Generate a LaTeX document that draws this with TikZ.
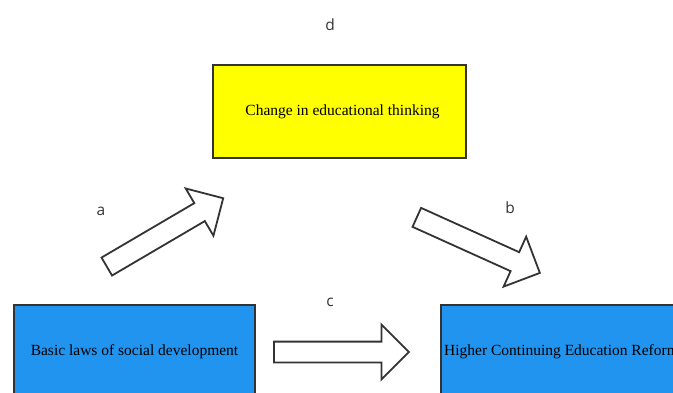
\documentclass[tikz,border=0pt]{standalone}
\usepackage{fontspec}
\setmainfont{Liberation Serif}
\newfontfamily\lblfont{Open Sans}
\usetikzlibrary{shapes.arrows}
\definecolor{boxblue}{RGB}{33,148,240}
\definecolor{boxyellow}{RGB}{255,255,0}
\definecolor{edgegray}{RGB}{51,51,51}
\tikzset{
  box/.style={draw=edgegray, line width=2pt, minimum width=253pt, minimum height=93pt,
    font=\fontsize{15.5}{18}\selectfont, inner sep=0pt},
  blockarrow/.style={draw=edgegray, line width=1.8pt, fill=white, single arrow,
    single arrow head extend=17pt, inner xsep=0pt, inner ysep=9.5pt,
    minimum height=135pt, anchor=tail},
  lbl/.style={font=\lblfont\fontsize{15.5}{18}\selectfont, text=edgegray, inner sep=0pt}
}
\begin{document}
\begin{tikzpicture}[x=1pt, y=-1pt]
  \path[use as bounding box, clip] (0,0) rectangle (673,392);
  \node[box, fill=boxyellow] (think) at (339.5,111.5) {\hspace{6pt}Change in educational thinking};
  \node[box, fill=boxblue, minimum width=241pt] (laws) at (134.5,351.5) {Basic laws of social development};
  \node[box, fill=boxblue, minimum width=241pt] (reform) at (561.5,351.5) {Higher Continuing Education Reform};
  % block arrows
  \node[blockarrow, rotate=30.4] (arrA) at (106,267) {};
  \node[blockarrow, rotate=-24.3] (arrB) at (416,217) {};
  \node[blockarrow] (arrC) at (273,352) {};
  % labels
  \node[lbl] (d) at (330,25) {d};
  \node[lbl] (a) at (101,211) {a};
  \node[lbl] (b) at (510,208) {b};
  \node[lbl] (c) at (330,302) {c};
\end{tikzpicture}
\end{document}
